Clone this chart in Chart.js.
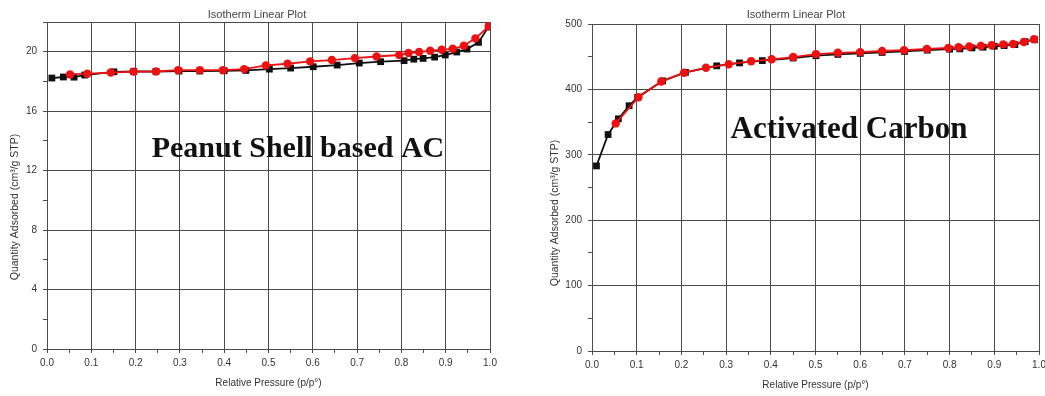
<!DOCTYPE html>
<html>
<head>
<meta charset="utf-8">
<script src="https://cdn.jsdelivr.net/npm/chart.js@4.4.1/dist/chart.umd.min.js"></script>
<style>
  html, body { margin: 0; padding: 0; background: #fff; overflow: hidden; width: 1045px; height: 396px; }
  canvas { position: absolute; top: 0; }
  #peanut { left: 0; }
  #carbon { left: 530px; }
</style>
</head>
<body>
<canvas id="peanut" width="520" height="396"></canvas>
<canvas id="carbon" width="520" height="396"></canvas>
<script>
// --- DATA ---
// Peanut shell based AC: black squares / red circles
const peanutBlackP = [0.011, 0.037, 0.061, 0.085, 0.151, 0.196, 0.246, 0.298, 0.345, 0.400, 0.449, 0.502, 0.550, 0.601, 0.655, 0.705, 0.753, 0.806, 0.828, 0.849, 0.875, 0.899, 0.925, 0.948, 0.974, 0.997];
const peanutBlackQ = [18.23, 18.30, 18.29, 18.43, 18.65, 18.67, 18.67, 18.70, 18.70, 18.72, 18.74, 18.83, 18.90, 18.99, 19.10, 19.24, 19.33, 19.40, 19.50, 19.55, 19.64, 19.78, 19.98, 20.18, 20.63, 21.70];
const peanutRedP = [0.052, 0.091, 0.144, 0.195, 0.246, 0.296, 0.345, 0.397, 0.445, 0.494, 0.543, 0.594, 0.643, 0.695, 0.744, 0.795, 0.816, 0.840, 0.865, 0.891, 0.916, 0.941, 0.967, 0.997];
const peanutRedQ = [18.47, 18.52, 18.60, 18.66, 18.67, 18.76, 18.76, 18.76, 18.83, 19.08, 19.19, 19.35, 19.44, 19.57, 19.68, 19.78, 19.91, 19.98, 20.07, 20.13, 20.20, 20.40, 20.90, 21.70];

// Activated carbon: black squares / red circles
const carbonBlackP = [0.010, 0.036, 0.059, 0.083, 0.102, 0.158, 0.209, 0.279, 0.330, 0.381, 0.450, 0.501, 0.550, 0.600, 0.649, 0.699, 0.750, 0.800, 0.823, 0.850, 0.875, 0.900, 0.922, 0.946, 0.969, 0.990];
const carbonBlackQ = [283, 331, 355, 375, 388, 413, 426, 436, 440.5, 444, 448, 451.5, 453.5, 455, 456.5, 458, 460, 461.5, 462, 463.5, 464.5, 466, 467, 468.5, 473, 476];
const carbonRedP = [0.053, 0.104, 0.155, 0.206, 0.255, 0.306, 0.356, 0.402, 0.450, 0.501, 0.550, 0.600, 0.649, 0.698, 0.749, 0.797, 0.820, 0.844, 0.870, 0.894, 0.920, 0.942, 0.966, 0.989];
const carbonRedQ = [348, 388, 412, 425.5, 433, 438.5, 443, 446, 449.5, 454, 456, 457, 458.7, 460, 461.8, 463.3, 464.5, 465.5, 466.5, 467.5, 468.8, 469.5, 472.5, 476.6];

const xTicksMajor = [0, 0.1, 0.2, 0.3, 0.4, 0.5, 0.6, 0.7, 0.8, 0.9, 1.0];
const peanutYMajor = [0, 4, 8, 12, 16, 20];
const carbonYMajor = [0, 100, 200, 300, 400, 500];

const plotTitle = 'Isotherm Linear Plot';
const xTitle = 'Relative Pressure (p/p\u00B0)';
const yTitle = 'Quantity Adsorbed (cm\u00B3/g STP)';

// --- HELPERS ---
const pts = (xs, ys) => xs.map((x, i) => ({ x, y: ys[i] }));
const near = (v, list) => list.some(t => Math.abs(t - v) < 1e-6);
const GRID = '#4a4a4a';
const TEXT = '#333';
const SANS = '"Liberation Sans", Arial, sans-serif';

// title, y title and the big label drawn on top of each chart
const overlayText = {
  id: 'overlayText',
  afterDraw(chart, args, o) {
    const ctx = chart.ctx;
    ctx.save();
    ctx.fillStyle = '#444';
    ctx.font = '11px ' + SANS;
    ctx.textAlign = 'center';
    ctx.textBaseline = 'middle';
    ctx.fillText(plotTitle, o.titleX, 15);

    ctx.save();
    ctx.translate(o.yTitleX, o.yTitleY);
    ctx.rotate(-Math.PI / 2);
    ctx.fillStyle = TEXT;
    ctx.font = '10.5px ' + SANS;
    ctx.fillText(yTitle, 0, 0);
    ctx.restore();

    ctx.fillStyle = '#111';
    ctx.font = 'bold ' + o.size + 'px "Liberation Serif", "Times New Roman", serif';
    ctx.textBaseline = 'alphabetic';
    ctx.fillText(o.text, o.tx, o.ty);
    ctx.restore();
  }
};

function makeChart(id, cfg) {
  new Chart(document.getElementById(id), {
    type: 'scatter',
    data: {
      datasets: [
        {
          data: pts(cfg.redP, cfg.redQ),
          showLine: true,
          borderColor: '#ee1111',
          backgroundColor: '#ee1111',
          borderWidth: 1.8,
          pointStyle: 'circle',
          pointRadius: 4.2,
          pointBorderWidth: 0
        },
        {
          data: pts(cfg.blackP, cfg.blackQ),
          showLine: true,
          borderColor: '#111',
          backgroundColor: '#111',
          borderWidth: 1.8,
          pointStyle: 'rect',
          pointRadius: 4.8,
          pointBorderWidth: 0
        }
      ]
    },
    options: {
      responsive: false,
      animation: false,
      layout: { padding: { top: cfg.top, right: cfg.right, left: 0, bottom: 0 } },
      plugins: {
        legend: { display: false },
        tooltip: { enabled: false },
        overlayText: {
          titleX: cfg.titleX, yTitleX: cfg.yTitleX, yTitleY: cfg.yTitleY,
          text: cfg.text, tx: cfg.tx, ty: cfg.ty, size: cfg.size
        }
      },
      scales: {
        x: {
          type: 'linear',
          min: 0, max: 1,
          afterFit: s => { s.height = cfg.xAxisH; },
          ticks: {
            stepSize: 0.05,
            maxRotation: 0,
            autoSkip: false,
            padding: 4,
            color: TEXT,
            font: { family: SANS, size: 10 },
            callback: v => near(v, xTicksMajor) ? v.toFixed(1) : ''
          },
          grid: {
            color: c => near(c.tick.value, xTicksMajor) ? GRID : 'transparent',
            tickColor: GRID,
            tickLength: 4,
            lineWidth: 1
          },
          border: { color: GRID, width: 1 },
          title: {
            display: true,
            text: xTitle,
            color: TEXT,
            font: { family: SANS, size: 10 },
            padding: { top: 0, bottom: cfg.xTitlePad }
          }
        },
        y: {
          type: 'linear',
          min: 0, max: cfg.yMax,
          afterFit: s => { s.width = cfg.yAxisW; },
          ticks: {
            stepSize: cfg.yStep,
            padding: 6,
            color: TEXT,
            font: { family: SANS, size: 10 },
            callback: v => near(v, cfg.yMajor) ? v : ''
          },
          grid: {
            color: c => (near(c.tick.value, cfg.yMajor) || c.tick.value === cfg.yMax) ? GRID : 'transparent',
            tickColor: GRID,
            tickLength: 4,
            lineWidth: 1
          },
          border: { color: GRID, width: 1 },
          title: { display: false }
        }
      }
    },
    plugins: [overlayText]
  });
}

makeChart('peanut', {
  blackP: peanutBlackP, blackQ: peanutBlackQ, redP: peanutRedP, redQ: peanutRedQ,
  yMax: 22, yStep: 2, yMajor: peanutYMajor,
  top: 22, right: 30, xAxisH: 47, yAxisW: 47, xTitlePad: 7,
  titleX: 257, yTitleX: 15, yTitleY: 207,
  text: 'Peanut Shell based AC', tx: 298, ty: 157, size: 30
});

makeChart('carbon', {
  blackP: carbonBlackP, blackQ: carbonBlackQ, redP: carbonRedP, redQ: carbonRedQ,
  yMax: 500, yStep: 50, yMajor: carbonYMajor,
  top: 24, right: 11, xAxisH: 45, yAxisW: 62, xTitlePad: 5,
  titleX: 266, yTitleX: 25, yTitleY: 213,
  text: 'Activated Carbon', tx: 319, ty: 138, size: 31
});
</script>
</body>
</html>
